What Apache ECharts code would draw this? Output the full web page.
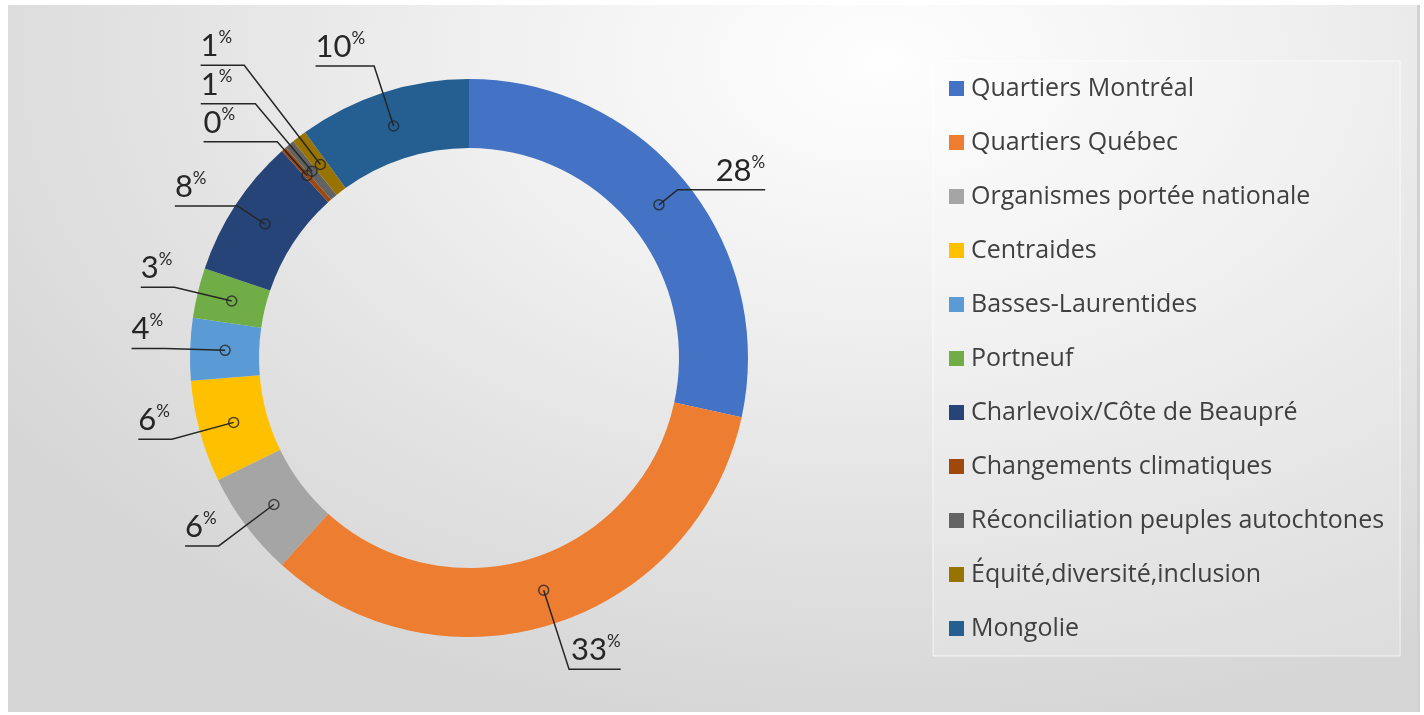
<!DOCTYPE html>
<html>
<head>
<meta charset="utf-8">
<script src="https://cdn.jsdelivr.net/npm/echarts@6/dist/echarts.min.js"></script>
<style>
  html, body { margin: 0; padding: 0; background: #fff; }
  .bg {
    position: absolute; left: 8px; top: 5px; width: 1409px; height: 707px;
    background: radial-gradient(ellipse 75% 95% at 62% 8%, #fefefe 0%, #f1f1f1 35%, #e2e2e2 70%, #d6d6d6 100%);
    border-right: 3px solid #d2d2d2;
  }
  #chart { position: absolute; left: 0; top: 0; width: 1424px; height: 715px; }
</style>
</head>
<body>
<div class="bg"></div>
<div id="chart"></div>
<script>
  const categories = [
    'Quartiers Montréal',
    'Quartiers Québec',
    'Organismes portée nationale',
    'Centraides',
    'Basses-Laurentides',
    'Portneuf',
    'Charlevoix/Côte de Beaupré',
    'Changements climatiques',
    'Réconciliation peuples autochtones',
    'Équité,diversité,inclusion',
    'Mongolie'
  ]
  // share of total, in %
  const shares = [28.4, 33.3, 6.1, 5.9, 3.6, 2.9, 8.1, 0.3, 0.55, 0.85, 10.0]
  const colors = ['#4472C4', '#ED7D31', '#A5A5A5', '#FFC000', '#5B9BD5', '#70AD47',
    '#264478', '#9E480E', '#636363', '#997300', '#255E91']
  // callout leader lengths [radial, horizontal] per slice (style only)
  const calloutLen = [[24, 36], [83, 0], [69, 0], [64, 0], [60, 0], [59, 0],
    [33, 29], [45, 40], [88, 21], [125, 10], [63, 7]]

  const center = [469, 358]
  const outerR = 279
  const innerR = 210
  const anchorR = 244

  const total = shares.reduce((a, b) => a + b, 0)
  const pieData = categories.map((name, i) => ({ name, value: shares[i] }))
  const calloutData = categories.map((name, i) => ({
    name,
    value: shares[i],
    labelLine: { length: calloutLen[i][0], length2: calloutLen[i][1] }
  }))

  // anchor dots at each slice's middle angle
  let acc = 0
  const dots = shares.map(v => {
    const mid = acc + v / 2
    acc += v
    return [anchorR, mid]
  })

  const chart = echarts.init(document.getElementById('chart'))
  chart.setOption({
    backgroundColor: 'transparent',
    color: colors,
    animation: false,
    legend: {
      orient: 'vertical',
      left: 933,
      top: 61,
      padding: [15, 16, 15, 16],
      itemWidth: 15,
      itemHeight: 15,
      itemGap: 29,
      icon: 'rect',
      backgroundColor: 'rgba(255,255,255,0.18)',
      borderColor: 'rgba(255,255,255,0.7)',
      borderWidth: 1,
      selectedMode: false,
      textStyle: {
        fontFamily: 'Open Sans',
        fontSize: 25,
        color: '#404040',
        padding: [0, 0, 0, 2]
      },
      data: categories
    },
    polar: { center, radius: outerR },
    angleAxis: { type: 'value', min: 0, max: total, startAngle: 90, clockwise: true, show: false },
    radiusAxis: { type: 'value', min: 0, max: outerR, show: false },
    series: [
      {
        type: 'pie',
        center,
        radius: [innerR, outerR],
        startAngle: 90,
        silent: true,
        label: { show: false },
        labelLine: { show: false },
        data: pieData,
        z: 1
      },
      {
        // transparent pie used only to anchor the callouts at the ring middle
        type: 'pie',
        center,
        radius: [0, anchorR],
        startAngle: 90,
        silent: true,
        avoidLabelOverlap: false,
        itemStyle: { color: 'transparent' },
        label: {
          show: true,
          position: 'outside',
          distanceToLabelLine: 2,
          formatter: p => `{n|${Math.round(p.percent)}}{p|%}`,
          rich: {
            n: { fontFamily: 'Lato', fontSize: 31, color: '#262626', lineHeight: 34 },
            p: { fontFamily: 'Lato', fontSize: 17, color: '#262626', lineHeight: 20, verticalAlign: 'top' }
          }
        },
        labelLine: {
          show: true,
          length: 60,
          length2: 0,
          lineStyle: { color: '#262626', width: 1.5 }
        },
        labelLayout (params) {
          const pts = params.labelLinePoints
          if (!pts) return {}
          const r = params.labelRect
          const isLeft = r.x + r.width / 2 < center[0]
          pts[2][0] = isLeft ? r.x : r.x + r.width
          return { labelLinePoints: pts, dy: -19 }
        },
        data: calloutData,
        z: 3
      },
      {
        type: 'scatter',
        coordinateSystem: 'polar',
        silent: true,
        symbol: 'circle',
        symbolSize: 10,
        itemStyle: { color: 'transparent', borderColor: '#262626', borderWidth: 1.5 },
        data: dots,
        z: 4
      }
    ]
  })
</script>
</body>
</html>
